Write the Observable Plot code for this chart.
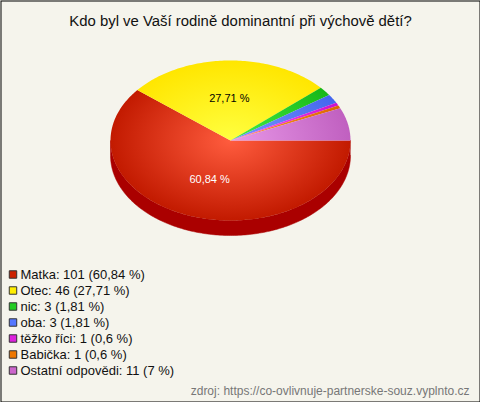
<!DOCTYPE html>
<html>
<head>
<meta charset="utf-8">
<script src="https://cdn.jsdelivr.net/npm/d3@7"></script>
<script src="https://cdn.jsdelivr.net/npm/@observablehq/plot@0.6"></script>
<style>
  html, body { margin: 0; padding: 0; background: #f5f4ec; }
  svg { display: block; }
</style>
</head>
<body>
<div id="chart"></div>
<script>
const title = "Kdo byl ve Vaší rodině dominantní při výchově dětí?";
const source = "zdroj: https://co-ovlivnuje-partnerske-souz.vyplnto.cz";
const categories = ["Matka", "Otec", "nic", "oba", "těžko říci", "Babička", "Ostatní odpovědi"];
const counts = [101, 46, 3, 3, 1, 1, 11];
const percentLabels = ["60,84 %", "27,71 %", "1,81 %", "1,81 %", "0,6 %", "0,6 %", "7 %"];
const colors = ["#cc2200", "#ffee00", "#22cc22", "#5577ff", "#dd22dd", "#ee7700", "#cc66cc"];
const lightColors = ["#ff5c3e", "#ffff40", "#44ee44", "#7799ff", "#ff55ff", "#ff9933", "#e898e8"];
const darkColors = ["#c21a00", "#ffe600", "#18b818", "#4466ee", "#cc11cc", "#dd6600", "#c060c0"];
const sideColors = ["#aa0000", "#ccaa00", "#118811", "#3344bb", "#991199", "#aa5500", "#995599"];

// layout
const W = 480, H = 402;
const cx = 230, cy = 140, rx = 120, ry = 80, depth = 15;

const total = d3.sum(counts);
let acc = 0;
const slices = counts.map((c, i) => {
  const a0 = acc / total * 2 * Math.PI;
  acc += c;
  const a1 = acc / total * 2 * Math.PI;
  return {i, a0, a1, frac: c / total};
});

const px = a => cx + rx * Math.cos(a);
const py = a => cy + ry * Math.sin(a);

function arcPts(a0, a1) {
  const n = Math.max(2, Math.ceil((a1 - a0) / (Math.PI / 180)));
  const pts = [];
  for (let k = 0; k <= n; k++) pts.push(a0 + (a1 - a0) * k / n);
  return pts;
}

// top faces
const topPts = [];
slices.forEach(s => {
  topPts.push({i: s.i, x: cx, y: cy});
  arcPts(s.a0, s.a1).forEach(a => topPts.push({i: s.i, x: px(a), y: py(a)}));
});

// side walls (front half only)
const sidePts = [];
slices.forEach(s => {
  const b0 = Math.max(s.a0, 0), b1 = Math.min(s.a1, Math.PI);
  if (b1 <= b0) return;
  const arc = arcPts(b0, b1);
  arc.forEach(a => sidePts.push({i: s.i, x: px(a), y: py(a)}));
  arc.slice().reverse().forEach(a => sidePts.push({i: s.i, x: px(a), y: py(a) + depth}));
});

// labels for big slices
const labels = slices.filter(s => s.frac > 0.1).map(s => {
  const m = (s.a0 + s.a1) / 2;
  return {i: s.i, x: cx + 0.52 * rx * Math.cos(m), y: cy + 0.52 * ry * Math.sin(m), text: percentLabels[s.i]};
});

// legend rows
const legendTop = 274, legendStep = 16;
const legend = categories.map((c, i) => ({
  i, x: 12.5, tx: 20, y: legendTop + i * legendStep,
  text: `${c}: ${counts[i]} (${percentLabels[i]})`
}));

const sideMarks = slices.map(s => Plot.line(sidePts.filter(p => p.i === s.i), {
  x: "x", y: "y", fill: sideColors[s.i], stroke: sideColors[s.i], strokeWidth: 0.5
}));
const topMarks = slices.map(s => Plot.line(topPts.filter(p => p.i === s.i), {
  x: "x", y: "y", fill: `url(#grad${s.i})`, stroke: "none"
}));

const svg = Plot.plot({
  width: W, height: H,
  margin: 0,
  x: {type: "linear", domain: [0, W], range: [0, W], axis: null},
  y: {type: "linear", domain: [0, H], range: [0, H], axis: null},
  style: {background: "#f5f4ec", fontFamily: "'Liberation Sans', Arial, sans-serif"},
  marks: [
    ...sideMarks,
    ...topMarks,
    Plot.text(labels, {x: "x", y: "y", text: "text", fontSize: 11,
      fill: d => d.i === 0 ? "#ffffff" : "#000000", textAnchor: "middle", lineAnchor: "middle"}),
    Plot.text([title], {frameAnchor: "top", dy: 21, lineAnchor: "middle", fontSize: 14.9, fill: "#111"}),
    Plot.dot(legend, {x: "x", y: "y", symbol: "square", r: 4.2, fill: d => colors[d.i], stroke: "#333", strokeWidth: 1}),
    Plot.text(legend, {x: "tx", y: "y", text: "text", textAnchor: "start", lineAnchor: "middle", fontSize: 13, fill: "#111"}),
    Plot.text([source], {frameAnchor: "bottom-right", dx: -11, dy: -11, lineAnchor: "middle", textAnchor: "end", fontSize: 12, fill: "#777"}),
    Plot.frame({stroke: "#000", inset: 0.5})
  ]
});

// gradients for the top faces
const defs = d3.select(svg).insert("defs", ":first-child");
slices.forEach(s => {
  const g = defs.append("radialGradient")
    .attr("id", `grad${s.i}`)
    .attr("gradientUnits", "userSpaceOnUse")
    .attr("cx", cx).attr("cy", cy).attr("r", rx)
    .attr("gradientTransform", `translate(${cx},${cy}) scale(1,${ry / rx}) translate(${-cx},${-cy})`);
  g.append("stop").attr("offset", "0%").attr("stop-color", lightColors[s.i]);
  g.append("stop").attr("offset", "100%").attr("stop-color", darkColors[s.i]);
});

document.getElementById("chart").appendChild(svg);
</script>
</body>
</html>
